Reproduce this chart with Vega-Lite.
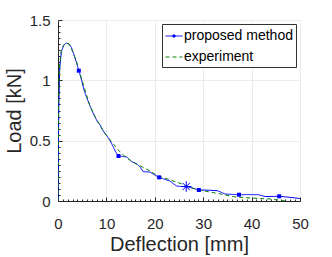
{
  "$schema": "https://vega.github.io/schema/vega-lite/v6.json",
  "width": 242,
  "height": 181,
  "autosize": {"type": "none"},
  "padding": {"left": 58, "top": 20, "right": 32, "bottom": 56},
  "background": "white",
  "config": {
    "view": {"stroke": null},
    "font": "Liberation Sans",
    "axis": {"labelFont": "Liberation Sans", "titleFont": "Liberation Sans", "labelColor": "#262626", "titleColor": "#262626", "titleFontWeight": "normal", "domainColor": "#262626", "tickColor": "#262626"}
  },
  "datasets": {
    "curves": [
      {"x": 0, "y": 0, "series": "proposed method"},
      {"x": 0.15, "y": 0.75, "series": "proposed method"},
      {"x": 0.35, "y": 1.1, "series": "proposed method"},
      {"x": 0.7, "y": 1.24, "series": "proposed method"},
      {"x": 1.2, "y": 1.29, "series": "proposed method"},
      {"x": 1.7, "y": 1.31, "series": "proposed method"},
      {"x": 2.3, "y": 1.3, "series": "proposed method"},
      {"x": 2.8, "y": 1.27, "series": "proposed method"},
      {"x": 3.3, "y": 1.21, "series": "proposed method"},
      {"x": 3.8, "y": 1.15, "series": "proposed method"},
      {"x": 4.3, "y": 1.08, "series": "proposed method"},
      {"x": 4.9, "y": 1.0, "series": "proposed method"},
      {"x": 5.3, "y": 0.93, "series": "proposed method"},
      {"x": 5.8, "y": 0.87, "series": "proposed method"},
      {"x": 6.4, "y": 0.81, "series": "proposed method"},
      {"x": 7.0, "y": 0.75, "series": "proposed method"},
      {"x": 7.6, "y": 0.7, "series": "proposed method"},
      {"x": 8.1, "y": 0.66, "series": "proposed method"},
      {"x": 8.7, "y": 0.63, "series": "proposed method"},
      {"x": 9.2, "y": 0.59, "series": "proposed method"},
      {"x": 9.7, "y": 0.56, "series": "proposed method"},
      {"x": 10.3, "y": 0.53, "series": "proposed method"},
      {"x": 10.9, "y": 0.49, "series": "proposed method"},
      {"x": 11.5, "y": 0.44, "series": "proposed method"},
      {"x": 12.0, "y": 0.4, "series": "proposed method"},
      {"x": 12.5, "y": 0.373, "series": "proposed method"},
      {"x": 13.2, "y": 0.37, "series": "proposed method"},
      {"x": 14.2, "y": 0.365, "series": "proposed method"},
      {"x": 15.2, "y": 0.326, "series": "proposed method"},
      {"x": 16.2, "y": 0.31, "series": "proposed method"},
      {"x": 16.9, "y": 0.285, "series": "proposed method"},
      {"x": 17.6, "y": 0.243, "series": "proposed method"},
      {"x": 19.0, "y": 0.24, "series": "proposed method"},
      {"x": 20.0, "y": 0.215, "series": "proposed method"},
      {"x": 20.9, "y": 0.196, "series": "proposed method"},
      {"x": 22.0, "y": 0.18, "series": "proposed method"},
      {"x": 23.1, "y": 0.166, "series": "proposed method"},
      {"x": 24.5, "y": 0.124, "series": "proposed method"},
      {"x": 25.5, "y": 0.12, "series": "proposed method"},
      {"x": 26.5, "y": 0.118, "series": "proposed method"},
      {"x": 27.5, "y": 0.11, "series": "proposed method"},
      {"x": 29.1, "y": 0.091, "series": "proposed method"},
      {"x": 31.0, "y": 0.09, "series": "proposed method"},
      {"x": 33.0, "y": 0.085, "series": "proposed method"},
      {"x": 34.5, "y": 0.058, "series": "proposed method"},
      {"x": 36.0, "y": 0.055, "series": "proposed method"},
      {"x": 37.4, "y": 0.052, "series": "proposed method"},
      {"x": 39.0, "y": 0.053, "series": "proposed method"},
      {"x": 41.4, "y": 0.052, "series": "proposed method"},
      {"x": 42.8, "y": 0.037, "series": "proposed method"},
      {"x": 44.5, "y": 0.038, "series": "proposed method"},
      {"x": 45.7, "y": 0.039, "series": "proposed method"},
      {"x": 47.5, "y": 0.032, "series": "proposed method"},
      {"x": 49.7, "y": 0.022, "series": "proposed method"},
      {"x": 50.0, "y": 0.02, "series": "proposed method"},
      {"x": 0, "y": 0, "series": "experiment"},
      {"x": 0.1, "y": 0.8, "series": "experiment"},
      {"x": 0.3, "y": 1.1, "series": "experiment"},
      {"x": 0.6, "y": 1.23, "series": "experiment"},
      {"x": 1.1, "y": 1.29, "series": "experiment"},
      {"x": 1.7, "y": 1.31, "series": "experiment"},
      {"x": 2.3, "y": 1.3, "series": "experiment"},
      {"x": 3.0, "y": 1.24, "series": "experiment"},
      {"x": 3.8, "y": 1.16, "series": "experiment"},
      {"x": 4.5, "y": 1.06, "series": "experiment"},
      {"x": 5.5, "y": 0.93, "series": "experiment"},
      {"x": 6.5, "y": 0.8, "series": "experiment"},
      {"x": 7.5, "y": 0.71, "series": "experiment"},
      {"x": 8.5, "y": 0.64, "series": "experiment"},
      {"x": 9.5, "y": 0.57, "series": "experiment"},
      {"x": 10.5, "y": 0.52, "series": "experiment"},
      {"x": 11.5, "y": 0.47, "series": "experiment"},
      {"x": 12.5, "y": 0.42, "series": "experiment"},
      {"x": 13.5, "y": 0.38, "series": "experiment"},
      {"x": 14.5, "y": 0.35, "series": "experiment"},
      {"x": 16.0, "y": 0.31, "series": "experiment"},
      {"x": 17.5, "y": 0.28, "series": "experiment"},
      {"x": 19.0, "y": 0.25, "series": "experiment"},
      {"x": 20.5, "y": 0.21, "series": "experiment"},
      {"x": 22.0, "y": 0.19, "series": "experiment"},
      {"x": 23.5, "y": 0.17, "series": "experiment"},
      {"x": 25.0, "y": 0.15, "series": "experiment"},
      {"x": 26.5, "y": 0.125, "series": "experiment"},
      {"x": 28.0, "y": 0.105, "series": "experiment"},
      {"x": 30.0, "y": 0.085, "series": "experiment"},
      {"x": 32.0, "y": 0.07, "series": "experiment"},
      {"x": 34.0, "y": 0.055, "series": "experiment"},
      {"x": 36.2, "y": 0.036, "series": "experiment"},
      {"x": 38.0, "y": 0.03, "series": "experiment"},
      {"x": 40.0, "y": 0.025, "series": "experiment"},
      {"x": 42.0, "y": 0.02, "series": "experiment"},
      {"x": 43.8, "y": 0.017, "series": "experiment"},
      {"x": 45.5, "y": 0.008, "series": "experiment"},
      {"x": 46.9, "y": 0.0, "series": "experiment"}
    ],
    "markers": [
      {"x": 4.3, "y": 1.08},
      {"x": 12.5, "y": 0.373},
      {"x": 20.9, "y": 0.196},
      {"x": 29.1, "y": 0.091},
      {"x": 37.4, "y": 0.052},
      {"x": 45.7, "y": 0.039}
    ],
    "star": [
      {"x": 26.5, "y": 0.12}
    ]
  },
  "layer": [
    {
      "data": {"name": "curves"},
      "mark": {"type": "line", "strokeWidth": 1, "clip": true},
      "encoding": {
        "x": {"field": "x", "type": "quantitative", "scale": {"domain": [0, 50], "nice": false},
          "axis": {"values": [0, 10, 20, 30, 40, 50], "title": "Deflection [mm]", "titleFontSize": 20, "labelFontSize": 15, "grid": true, "gridColor": "#ebebeb", "tickSize": -4, "labelPadding": 19, "titlePadding": 3, "labelFlush": false}},
        "y": {"field": "y", "type": "quantitative", "scale": {"domain": [0, 1.5], "nice": false},
          "axis": {"values": [0, 0.5, 1, 1.5], "format": "~g", "title": "Load [kN]", "titleFontSize": 20, "labelFontSize": 15, "grid": true, "gridColor": "#ebebeb", "tickSize": -4, "labelPadding": 12, "titlePadding": 5, "labelFlush": false}},
        "color": {"field": "series", "type": "nominal", "scale": {"domain": ["proposed method", "experiment"], "range": ["#0000ff", "#008000"]},
          "legend": {"title": null, "orient": "none", "legendX": 104, "legendY": 4, "direction": "vertical", "fillColor": "white", "strokeColor": "#333333", "padding": 3, "labelFont": "Liberation Sans", "labelFontSize": 14, "labelColor": "#000000", "labelOffset": 1, "symbolSize": 289, "symbolStrokeWidth": 1, "rowPadding": 5,
            "encode": {"symbols": {"update": {
              "shape": {"signal": "datum.value === 'proposed method' ? 'M-1,0H1M-0.12,-0.12H0.12V0.12H-0.12Z' : 'M-1,0H1'"},
              "fill": {"signal": "datum.value === 'proposed method' ? '#0000ff' : 'transparent'"}
            }}}}},
        "strokeDash": {"field": "series", "type": "nominal", "scale": {"domain": ["proposed method", "experiment"], "range": [[1, 0], [4, 3]]}}
      }
    },
    {
      "data": {"name": "markers"},
      "mark": {"type": "point", "shape": "square", "filled": true, "size": 16, "color": "#0000ff", "opacity": 1},
      "encoding": {
        "x": {"field": "x", "type": "quantitative", "axis": {"orient": "bottom", "values": [1,2,3,4,5,6,7,8,9,11,12,13,14,15,16,17,18,19,21,22,23,24,25,26,27,28,29,31,32,33,34,35,36,37,38,39,41,42,43,44,45,46,47,48,49], "labels": false, "grid": false, "domain": false, "tickSize": -2, "title": null}},
        "y": {"field": "y", "type": "quantitative", "axis": {"orient": "left", "values": [0.05,0.1,0.15,0.2,0.25,0.3,0.35,0.4,0.45,0.55,0.6,0.65,0.7,0.75,0.8,0.85,0.9,0.95,1.05,1.1,1.15,1.2,1.25,1.3,1.35,1.4,1.45], "labels": false, "grid": false, "domain": false, "tickSize": -2, "title": null}}
      }
    },
    {
      "data": {"name": "star"},
      "mark": {"type": "point", "shape": "M-1,0H1M0,-1V1M-0.7,-0.7L0.7,0.7M-0.7,0.7L0.7,-0.7", "filled": false, "size": 110, "color": "#0000ff", "strokeWidth": 1, "opacity": 1},
      "encoding": {
        "x": {"field": "x", "type": "quantitative", "axis": null},
        "y": {"field": "y", "type": "quantitative", "axis": null}
      }
    }
  ],
  "resolve": {"axis": {"x": "independent", "y": "independent"}}
}
